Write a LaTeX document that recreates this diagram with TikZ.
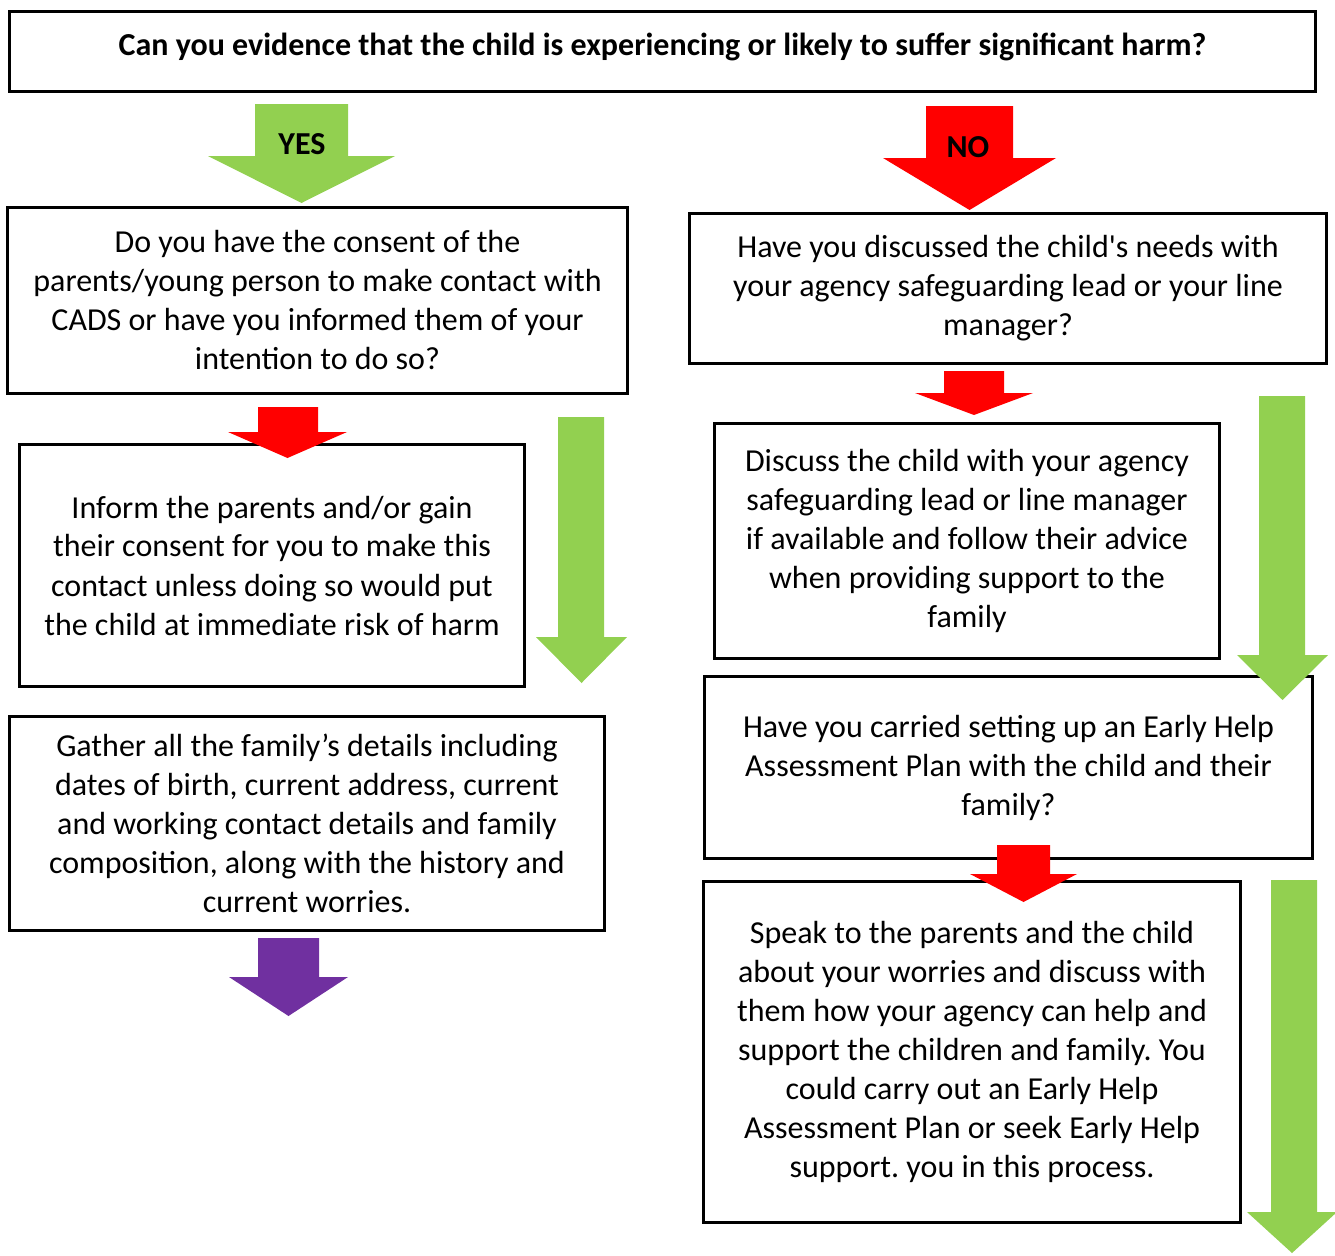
\documentclass[tikz,border=0pt]{standalone}
\usepackage{fontspec}
\setmainfont{Carlito}[Ligatures=TeXOff]
\frenchspacing
\definecolor{agreen}{HTML}{92D050}
\definecolor{ared}{HTML}{FF0000}
\definecolor{apurple}{HTML}{7030A0}
\newcommand\blockarr[8]{% color, shaft left, shaft right, top, head y, head left, head right, tip y
  \fill[#1] (#2,#4) -- (#3,#4) -- (#3,#5) -- (#7,#5) -- ({(#6+#7)/2},#8) -- (#6,#5) -- (#2,#5) -- cycle;}
\begin{document}
\begin{tikzpicture}[x=1pt,y=-1pt,
  box/.style={draw=black,line width=3pt,fill=white,anchor=north west,inner sep=0pt,align=center,
    font=\fontsize{32}{39}\selectfont},
  lbl/.style={font=\fontsize{32}{36}\selectfont\bfseries}]
\useasboundingbox (0,0) rectangle (1335,1255);
% boxes
\node[box,minimum width=1306pt,minimum height=80pt,font=\fontsize{32}{36}\selectfont\bfseries] (top) at (8,10) {\raisebox{14pt}{Can you evidence that the child is experiencing or likely to suffer significant harm?}};
\node[box,minimum width=620pt,minimum height=186pt] (q1) at (6,206) {Do you have the consent of the\\parents/young person to make contact with\\CADS or have you informed them of your\\intention to do so?};
\node[box,minimum width=505pt,minimum height=242pt] (inform) at (18,443) {Inform the parents and/or gain\\their consent for you to make this\\contact unless doing so would put\\the child at immediate risk of harm};
\node[box,minimum width=595pt,minimum height=214pt] (gather) at (8,715) {Gather all the family’s details including\\dates of birth, current address, current\\and working contact details and family\\composition, along with the history and\\current worries.};
\node[box,minimum width=637pt,minimum height=150pt] (q2) at (688,212) {Have you discussed the child's needs with\\your agency safeguarding lead or your line\\manager?};
\node[box,minimum width=505pt,minimum height=235pt] (discuss) at (713,422) {Discuss the child with your agency\\safeguarding lead or line manager\\if available and follow their advice\\when providing support to the\\family};
\node[box,minimum width=608pt,minimum height=182pt] (early) at (703,675) {Have you carried setting up an Early Help\\Assessment Plan with the child and their\\family?};
\node[box,minimum width=537pt,minimum height=341pt] (speak) at (702,880) {Speak to the parents and the child\\about your worries and discuss with\\them how your agency can help and\\support the children and family. You\\could carry out an Early Help\\Assessment Plan or seek Early Help\\support. you in this process.};
% arrows
\blockarr{agreen}{255}{348}{104}{156}{208}{395}{203}
\node[lbl] (yes) at (302,144) {YES};
\blockarr{ared}{926}{1013}{106}{158}{883}{1056}{210}
\node[lbl] (no) at (968,147) {NO};
\blockarr{ared}{258}{318}{407}{432}{228}{347}{458}
\blockarr{agreen}{558}{604}{417}{637}{536}{627}{683}
\blockarr{apurple}{258}{319}{938}{977}{229}{348}{1016}
\blockarr{ared}{944}{1004}{371}{393}{915}{1033}{415}
\blockarr{agreen}{1259}{1305}{396}{655}{1237}{1328}{700}
\blockarr{ared}{997}{1050}{845}{874}{970}{1077}{902}
\blockarr{agreen}{1271}{1317}{880}{1212}{1247}{1337}{1253}
\end{tikzpicture}
\end{document}
